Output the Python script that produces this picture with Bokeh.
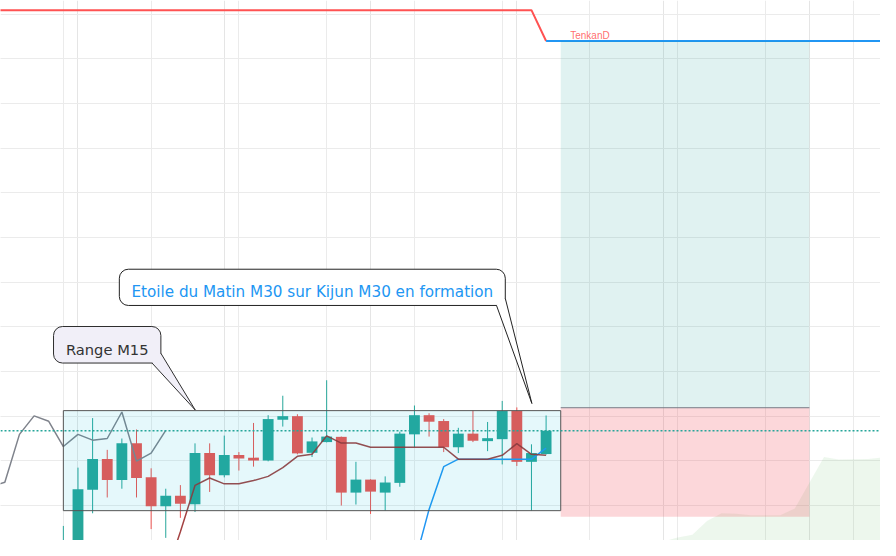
from bokeh.plotting import figure
from bokeh.models import (Range1d, FixedTicker, BoxAnnotation, PolyAnnotation,
                          Arrow, Label, Span, Grid)
from bokeh.embed import file_html
from bokeh.resources import INLINE

# ---------------- data (bar index, prices) ----------------
bars = list(range(-1, 33))
opens = [82.61, 86.96, 103.54, 110.43, 105.72, 113.91, 106.30, 99.85, 102.17, 100.28,
         111.74, 106.80, 111.30, 110.72, 110.07, 119.20, 120.00, 111.80, 114.20, 115.37,
         102.89, 105.80, 102.89, 105.07, 115.93, 120.22, 118.91, 113.04, 116.09, 114.41,
         114.85, 121.15, 109.78, 111.52]
highs = [95.43, 108.48, 119.57, 112.46, 115.00, 117.02, 108.33, 103.76, 104.57, 113.91,
         113.91, 115.65, 111.96, 118.48, 120.22, 124.57, 120.43, 115.22, 128.04, 115.43,
         109.78, 105.87, 106.52, 116.52, 122.39, 120.65, 119.35, 117.39, 121.24, 118.70,
         123.41, 121.96, 113.70, 120.15]
lows = [80.43, 84.78, 98.26, 101.80, 103.76, 101.80, 94.72, 92.76, 97.24, 98.54,
        103.04, 106.30, 107.83, 108.70, 109.89, 117.67, 111.46, 110.87, 114.13, 100.00,
        100.22, 98.11, 98.85, 104.20, 113.04, 115.43, 111.96, 111.74, 114.20, 112.17,
        109.20, 108.85, 98.85, 111.41]
closes = [90.22, 103.63, 110.43, 105.72, 113.91, 106.15, 99.85, 102.17, 100.37, 111.74,
          106.80, 111.30, 110.50, 110.07, 119.35, 120.00, 111.67, 114.35, 115.43, 102.89,
          105.80, 103.11, 105.15, 116.09, 120.22, 118.76, 113.04, 116.09, 114.50, 115.07,
          121.15, 109.78, 111.74, 116.74]

chikou_x = list(range(-6, 7))
chikou_y = [104.13, 105.22, 115.93, 120.07, 118.85, 113.20, 115.93, 114.63, 115.00,
            120.93, 109.93, 111.74, 116.80]

tenkan_x = list(range(6, 33))
tenkan_y = [84.35, 94.13, 104.50, 106.15, 104.85, 104.85, 105.59, 106.52, 108.48, 111.02,
            111.46, 115.59, 113.98, 113.98, 113.04, 113.04, 113.04, 113.04, 113.04, 113.04,
            110.37, 110.37, 110.37, 111.24, 113.85, 111.46, 111.24]

kijun_x = list(range(23, 33))
kijun_y = [86.96, 99.13, 108.70, 110.37, 110.37, 110.37, 110.37, 110.37, 110.37, 112.83]

tenkan_d_x = [-6, 31, 32]
tenkan_d_y = [210.87, 210.87, 203.98]
kijun_d_x = [32, 56]
kijun_d_y = [203.98, 203.98]

cloud_x = list(range(40, 57))
cloud_top = [91.96, 92.83, 93.48, 96.52, 98.26, 98.15, 97.83, 97.83, 97.83, 99.35,
             105.11, 110.87, 110.28, 110.33, 110.43, 110.76, 110.76]
cloud_bottom = [80.0] * len(cloud_x)

# long position tool
pos_start, pos_end = 33, 50
entry_price, target_price, stop_price = 121.89, 203.90, 97.46
# range rectangle
range_left, range_right = -1, 33
range_top, range_bottom = 121.24, 98.85

UP, DOWN = "#26a69a", "#ef5350"

p = figure(width=880, height=540, x_range=Range1d(-5.297, 54.86),
           y_range=Range1d(92.17, 213.04), output_backend="svg",
           toolbar_location=None, min_border=0,
           x_axis_location=None, y_axis_location=None)
p.outline_line_color = None
p.background_fill_color = "white"
p.border_fill_color = "white"

p.add_layout(Grid(dimension=0, ticker=FixedTicker(ticks=[-7 + 6 * k for k in range(12)]),
                  grid_line_color="#ebebeb", grid_line_width=1))
p.add_layout(Grid(dimension=1, ticker=FixedTicker(ticks=[90 + 10 * k for k in range(14)]),
                  grid_line_color="#ebebeb", grid_line_width=1))

# cloud
p.varea(x=cloud_x, y1=cloud_bottom, y2=cloud_top, fill_color=(76, 175, 80), fill_alpha=0.1)

# candles
colors = [UP if c >= o else DOWN for o, c in zip(opens, closes)]
p.segment(x0=bars, y0=lows, x1=bars, y1=highs, line_color=colors, line_width=1)
p.vbar(x=bars, width=0.74, top=[max(o, c) for o, c in zip(opens, closes)],
       bottom=[min(o, c) for o, c in zip(opens, closes)], fill_color=colors, line_color=None)

# indicator lines
p.line(chikou_x, chikou_y, line_color="#7f838c", line_width=1.5)
p.line(kijun_x, kijun_y, line_color="#2196f3", line_width=1.5)
p.line(tenkan_x, tenkan_y, line_color="#992e2e", line_width=1.5, line_alpha=0.9)
p.line(tenkan_d_x, tenkan_d_y, line_color="#ff5252", line_width=2)
p.line(kijun_d_x, kijun_d_y, line_color="#2196f3", line_width=2)

# long position zones
p.quad(left=[pos_start], right=[pos_end], bottom=[entry_price], top=[target_price],
       fill_color=(0, 150, 136), fill_alpha=0.12, line_color=None)
p.quad(left=[pos_start], right=[pos_end], bottom=[stop_price], top=[entry_price],
       fill_color=(242, 54, 69), fill_alpha=0.2, line_color=None)
p.segment(x0=[pos_start], y0=[entry_price], x1=[pos_end], y1=[entry_price],
          line_color="#787b86", line_width=1)

# range rectangle
p.quad(left=[range_left], right=[range_right], bottom=[range_bottom], top=[range_top],
       fill_color=(0, 188, 212), fill_alpha=0.1, line_color="#555555", line_width=1)

# last price line
p.add_layout(Span(location=closes[-1], dimension="width", line_color=UP,
                  line_dash="2 2", line_width=1.5))

# callout 1
p.add_layout(BoxAnnotation(left=-1.672, right=5.667, top=140.07, bottom=131.89,
                           fill_color="#f1eff8", fill_alpha=1, line_color="#2e2e2e",
                           line_width=1, line_alpha=1, border_radius=(9, 9, 0, 9)))
p.add_layout(PolyAnnotation(xs=[5.062, 8.017, 5.667], ys=[131.89, 121.37, 134.07],
                            fill_color="#f1eff8", fill_alpha=1, line_alpha=0))
for xs, ys in [((5.062, 8.017), (131.89, 121.37)), ((5.667, 8.017), (134.07, 121.37))]:
    p.add_layout(Arrow(end=None, x_start=xs[0], y_start=ys[0], x_end=xs[1], y_end=ys[1],
                       line_color="#2e2e2e", line_width=1))
p.add_layout(Label(x=1.997, y=134.93, text="Range M15", text_align="center",
                   text_baseline="alphabetic", text_font="DejaVu Sans",
                   text_font_size="14.7px", text_color="#333333"))

# callout 2
p.add_layout(BoxAnnotation(left=2.827, right=29.21, top=152.89, bottom=144.78,
                           fill_color="white", fill_alpha=1, line_color="#222222",
                           line_width=1, line_alpha=1, border_radius=(9, 9, 0, 9)))
p.add_layout(PolyAnnotation(xs=[28.61, 31.03, 29.21], ys=[144.78, 122.83, 146.37],
                            fill_color="white", fill_alpha=1, line_alpha=0))
for xs, ys in [((28.61, 31.03), (144.78, 122.83)), ((29.21, 31.03), (146.37, 122.83))]:
    p.add_layout(Arrow(end=None, x_start=xs[0], y_start=ys[0], x_end=xs[1], y_end=ys[1],
                       line_color="#222222", line_width=1))
p.add_layout(Label(x=16.02, y=147.83, text="Etoile du Matin M30 sur Kijun M30 en formation",
                   text_align="center", text_baseline="alphabetic", text_font="DejaVu Sans",
                   text_font_size="15.2px", text_color="#2196f3"))

# TenkanD label
p.add_layout(Label(x=33.65, y=205.28, text="TenkanD", text_align="left",
                   text_baseline="alphabetic", text_font="Liberation Sans",
                   text_font_size="10px", text_color="#ff5252", text_alpha=0.85))

open("out.html", "w").write(file_html(p, INLINE))
